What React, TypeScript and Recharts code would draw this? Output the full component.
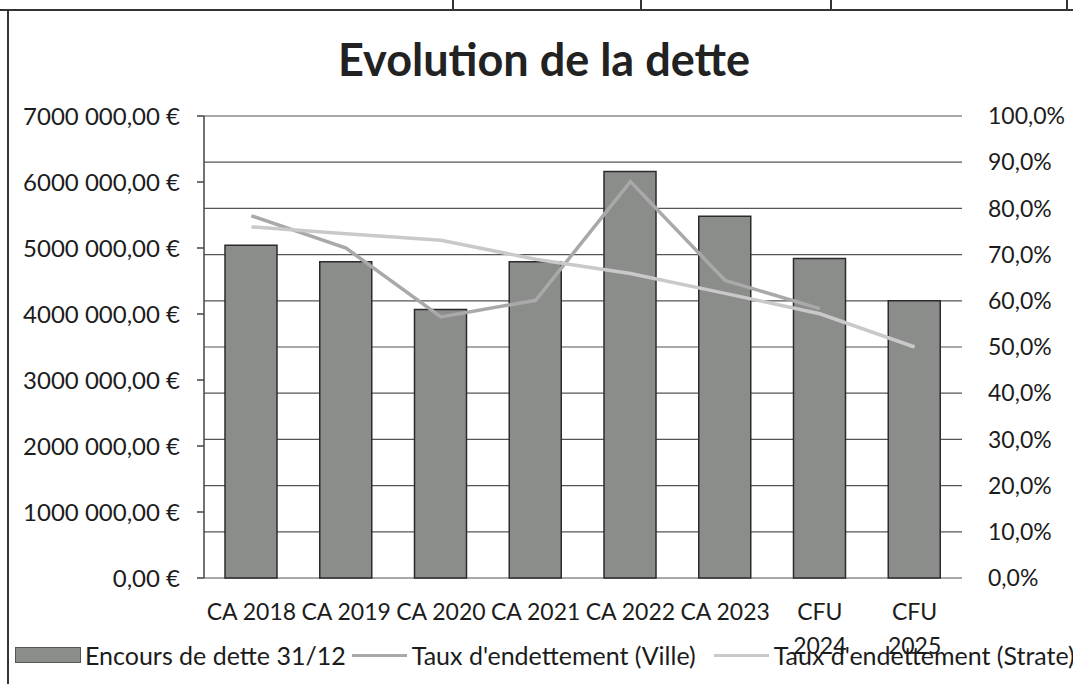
import {
  Bar,
  CartesianGrid,
  ComposedChart,
  Legend,
  Line,
  XAxis,
  YAxis,
} from "recharts";

const categories = ["CA 2018", "CA 2019", "CA 2020", "CA 2021", "CA 2022", "CA 2023", "CFU 2024", "CFU 2025"];
const encours = [5040000, 4790000, 4070000, 4790000, 6160000, 5480000, 4840000, 4200000];
const tauxVille = [0.784, 0.714, 0.565, 0.601, 0.858, 0.644, 0.583, null];
const tauxStrate = [0.76, 0.745, 0.731, 0.69, 0.659, 0.616, 0.572, 0.5];
const euroTicks = [0, 1000000, 2000000, 3000000, 4000000, 5000000, 6000000, 7000000];
const percentTicks = [0, 0.1, 0.2, 0.3, 0.4, 0.5, 0.6, 0.7, 0.8, 0.9, 1];
const seriesNames = ["Encours de dette 31/12", "Taux d'endettement (Ville)", "Taux d'endettement (Strate)"];

const data = categories.map((label, i) => ({
  label,
  encours: encours[i],
  ville: tauxVille[i],
  strate: tauxStrate[i],
}));

const FONT = "Lato, 'Open Sans', sans-serif";
const TEXT = "#1c1c1c";

// Excel-style "7000 000,00 €"
const formatEuro = (v: number) => {
  if (v < 1000) return `${v},00 €`;
  const thousands = Math.floor(v / 1000);
  const rest = String(v % 1000).padStart(3, "0");
  return `${thousands} ${rest},00 €`;
};

const formatPercent = (v: number) => `${(v * 100).toFixed(1).replace(".", ",")}%`;

function CategoryTick({ x, y, payload }: any) {
  const value = String(payload.value);
  const lines = value.length > 7 ? value.split(" ") : [value];
  return (
    <text x={x} y={y} textAnchor="middle" fill={TEXT} fontFamily={FONT} fontSize={23}>
      {lines.map((line, i) => (
        <tspan key={i} x={x} y={y + 42 + i * 34}>
          {line}
        </tspan>
      ))}
    </text>
  );
}

const legendGaps = [6, 18, 0];

function ChartLegend({ payload }: any) {
  const items = [...(payload ?? [])].sort(
    (a: any, b: any) => seriesNames.indexOf(a.value) - seriesNames.indexOf(b.value)
  );
  return (
    <div style={{ display: "flex", alignItems: "center", fontFamily: FONT, fontSize: 25, color: TEXT }}>
      {items.map((entry: any, i: number) => (
        <div key={entry.value} style={{ display: "flex", alignItems: "center", marginRight: legendGaps[i] }}>
          {entry.type === "rect" ? (
            <span
              style={{
                display: "inline-block",
                width: 64,
                height: 14,
                background: "#8a8d8a",
                border: "1px solid #555",
                marginRight: 4,
              }}
            />
          ) : (
            <span
              style={{
                display: "inline-block",
                width: 55,
                height: 3,
                background: entry.color,
                marginRight: 5,
              }}
            />
          )}
          <span>{entry.value}</span>
        </div>
      ))}
    </div>
  );
}

export default function App() {
  return (
    <div style={{ position: "absolute", left: 0, top: 0, width: 1073, height: 684, background: "#fff" }}>
      {/* table borders from the scanned page */}
      <div style={{ position: "absolute", left: 0, top: 9, width: 1073, height: 2, background: "#333" }} />
      <div style={{ position: "absolute", left: 7, top: 10, width: 2, height: 674, background: "#333" }} />
      {[452, 640, 830, 1066].map((x) => (
        <div key={x} style={{ position: "absolute", left: x, top: 0, width: 2, height: 10, background: "#333" }} />
      ))}

      <div
        style={{
          position: "absolute",
          left: 544,
          top: 37,
          transform: "translateX(-50%)",
          whiteSpace: "nowrap",
          fontFamily: FONT,
          fontWeight: 700,
          fontSize: 45,
          lineHeight: 1,
          color: "#222",
        }}
      >
        Evolution de la dette
      </div>

      <ComposedChart
        width={1073}
        height={684}
        data={data}
        margin={{ top: 116, right: 0, bottom: 46, left: 0 }}
      >
        <CartesianGrid yAxisId="right" vertical={false} stroke="#555" strokeWidth={1.2} />
        <XAxis
          dataKey="label"
          height={60}
          axisLine={false}
          tickLine={false}
          tickSize={0}
          tickMargin={0}
          interval={0}
          tick={<CategoryTick />}
        />
        <YAxis
          yAxisId="left"
          orientation="left"
          width={204}
          domain={[0, 7000000]}
          ticks={euroTicks}
          tickFormatter={formatEuro}
          axisLine={{ stroke: "#444", strokeWidth: 1.5 }}
          tickLine={{ stroke: "#444", strokeWidth: 1.5 }}
          tickSize={7}
          tickMargin={17}
          tick={{ fill: TEXT, fontFamily: FONT, fontSize: 24 }}
        />
        <YAxis
          yAxisId="right"
          orientation="right"
          width={111}
          domain={[0, 1]}
          ticks={percentTicks}
          tickFormatter={formatPercent}
          axisLine={false}
          tickLine={false}
          tickSize={0}
          tickMargin={26}
          tick={{ fill: TEXT, fontFamily: FONT, fontSize: 23 }}
        />
        <Bar
          yAxisId="left"
          dataKey="encours"
          name={seriesNames[0]}
          barSize={52}
          fill="#8a8d8a"
          stroke="#2b2b2b"
          strokeWidth={1.5}
          legendType="rect"
          isAnimationActive={false}
        />
        <Line
          yAxisId="right"
          dataKey="ville"
          name={seriesNames[1]}
          stroke="#a9a9a9"
          strokeWidth={3.5}
          dot={false}
          legendType="line"
          isAnimationActive={false}
        />
        <Line
          yAxisId="right"
          dataKey="strate"
          name={seriesNames[2]}
          stroke="#c9c9c9"
          strokeWidth={3.5}
          dot={false}
          legendType="line"
          isAnimationActive={false}
        />
        <Legend
          layout="horizontal"
          verticalAlign="middle"
          align="center"
          content={<ChartLegend />}
          wrapperStyle={{ left: 15, top: 640, width: 1060, height: 30 }}
        />
      </ComposedChart>
    </div>
  );
}
